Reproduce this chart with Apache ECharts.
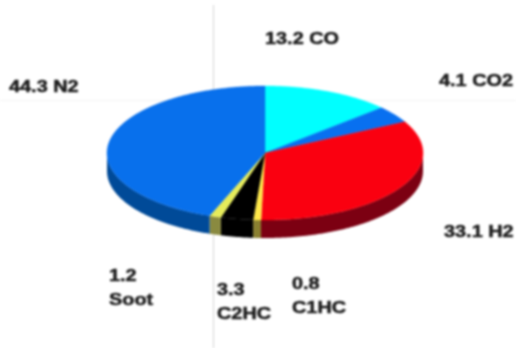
<!DOCTYPE html>
<html><head><meta charset="utf-8">
<style>html,body{margin:0;padding:0;background:#fff}#c{width:516px;height:348px;filter:blur(0.9px)}</style>
<script src="https://cdn.jsdelivr.net/npm/echarts@6/dist/echarts.min.js"></script>
</head><body><div id="c"></div>
<script>
const names = ['CO','CO2','H2','C1HC','C2HC','Soot','N2'];
const values = [13.2,4.1,33.1,0.8,3.3,1.2,44.3];
const topColors = ['#00FFFF','#0870F0','#FA0010','#FFE84A','#000000','#E6EC5A','#0870EC'];
const sideColors = ['#00A0A0','#004A98','#7C0012','#8A8030','#000000','#8A8A40','#004A98'];
const labelText = ['13.2 CO','4.1 CO2','33.1 H2','0.8\nC1HC','3.3\nC2HC','1.2\nSoot','44.3 N2'];
const labelAt = [[265,38],[439,80],[444,231],[292,283],[217,289],[109,275],[9,86]];
const pie = {cx:265,cy:153,rx:158,ry:67,depth:18};
const total = values.reduce((a,b)=>a+b,0);
const starts = []; values.reduce((a,b,i)=>{starts[i]=a;return a+b;},0);
function pt(deg,dy){const r=deg*Math.PI/180;return [pie.cx+pie.rx*Math.sin(r),pie.cy-pie.ry*Math.cos(r)+(dy||0)];}
function renderSlice(params,api){
  const i=params.dataIndex, a0=starts[i]/total*360, a1=(starts[i]+api.value(0))/total*360;
  const arc=[];for(let a=a0;a<a1;a+=0.5)arc.push(a);arc.push(a1);
  const children=[];
  const s0=Math.max(a0,90), s1=Math.min(a1,270);
  if(s1>s0){
    const sa=arc.filter(a=>a>=s0&&a<=s1);
    if(sa[0]!==s0)sa.unshift(s0); if(sa[sa.length-1]!==s1)sa.push(s1);
    children.push({type:'polygon',shape:{points:sa.map(a=>pt(a,0)).concat(sa.slice().reverse().map(a=>pt(a,pie.depth)))},style:{fill:sideColors[i]}});
  }
  children.push({type:'polygon',shape:{points:[[pie.cx,pie.cy]].concat(arc.map(a=>pt(a,0)))},style:{fill:topColors[i],stroke:topColors[i],lineWidth:0.4}});
  return {type:'group',children};
}
const chart=echarts.init(document.getElementById('c'),null,{renderer:'canvas'});
chart.setOption({
  animation:false,
  graphic:[
    {type:'line',z:0,shape:{x1:213.5,y1:5,x2:213.5,y2:348},style:{stroke:'#d4d4d4',lineWidth:1}},
    {type:'line',z:0,shape:{x1:0,y1:100.5,x2:516,y2:100.5},style:{stroke:'#f3f3f3',lineWidth:1}},
    ...labelText.map((t,i)=>({type:'text',z:10,x:labelAt[i][0],y:labelAt[i][1]-11,scaleX:1.17,style:{text:t,fill:'#1c1c1c',stroke:'#1c1c1c',lineWidth:0.5,font:'bold 17px "Liberation Sans"',lineHeight:24}}))
  ],
  series:[{type:'custom',coordinateSystem:'none',silent:true,z:2,renderItem:renderSlice,data:values.map(v=>[v])}]
});
</script></body></html>
